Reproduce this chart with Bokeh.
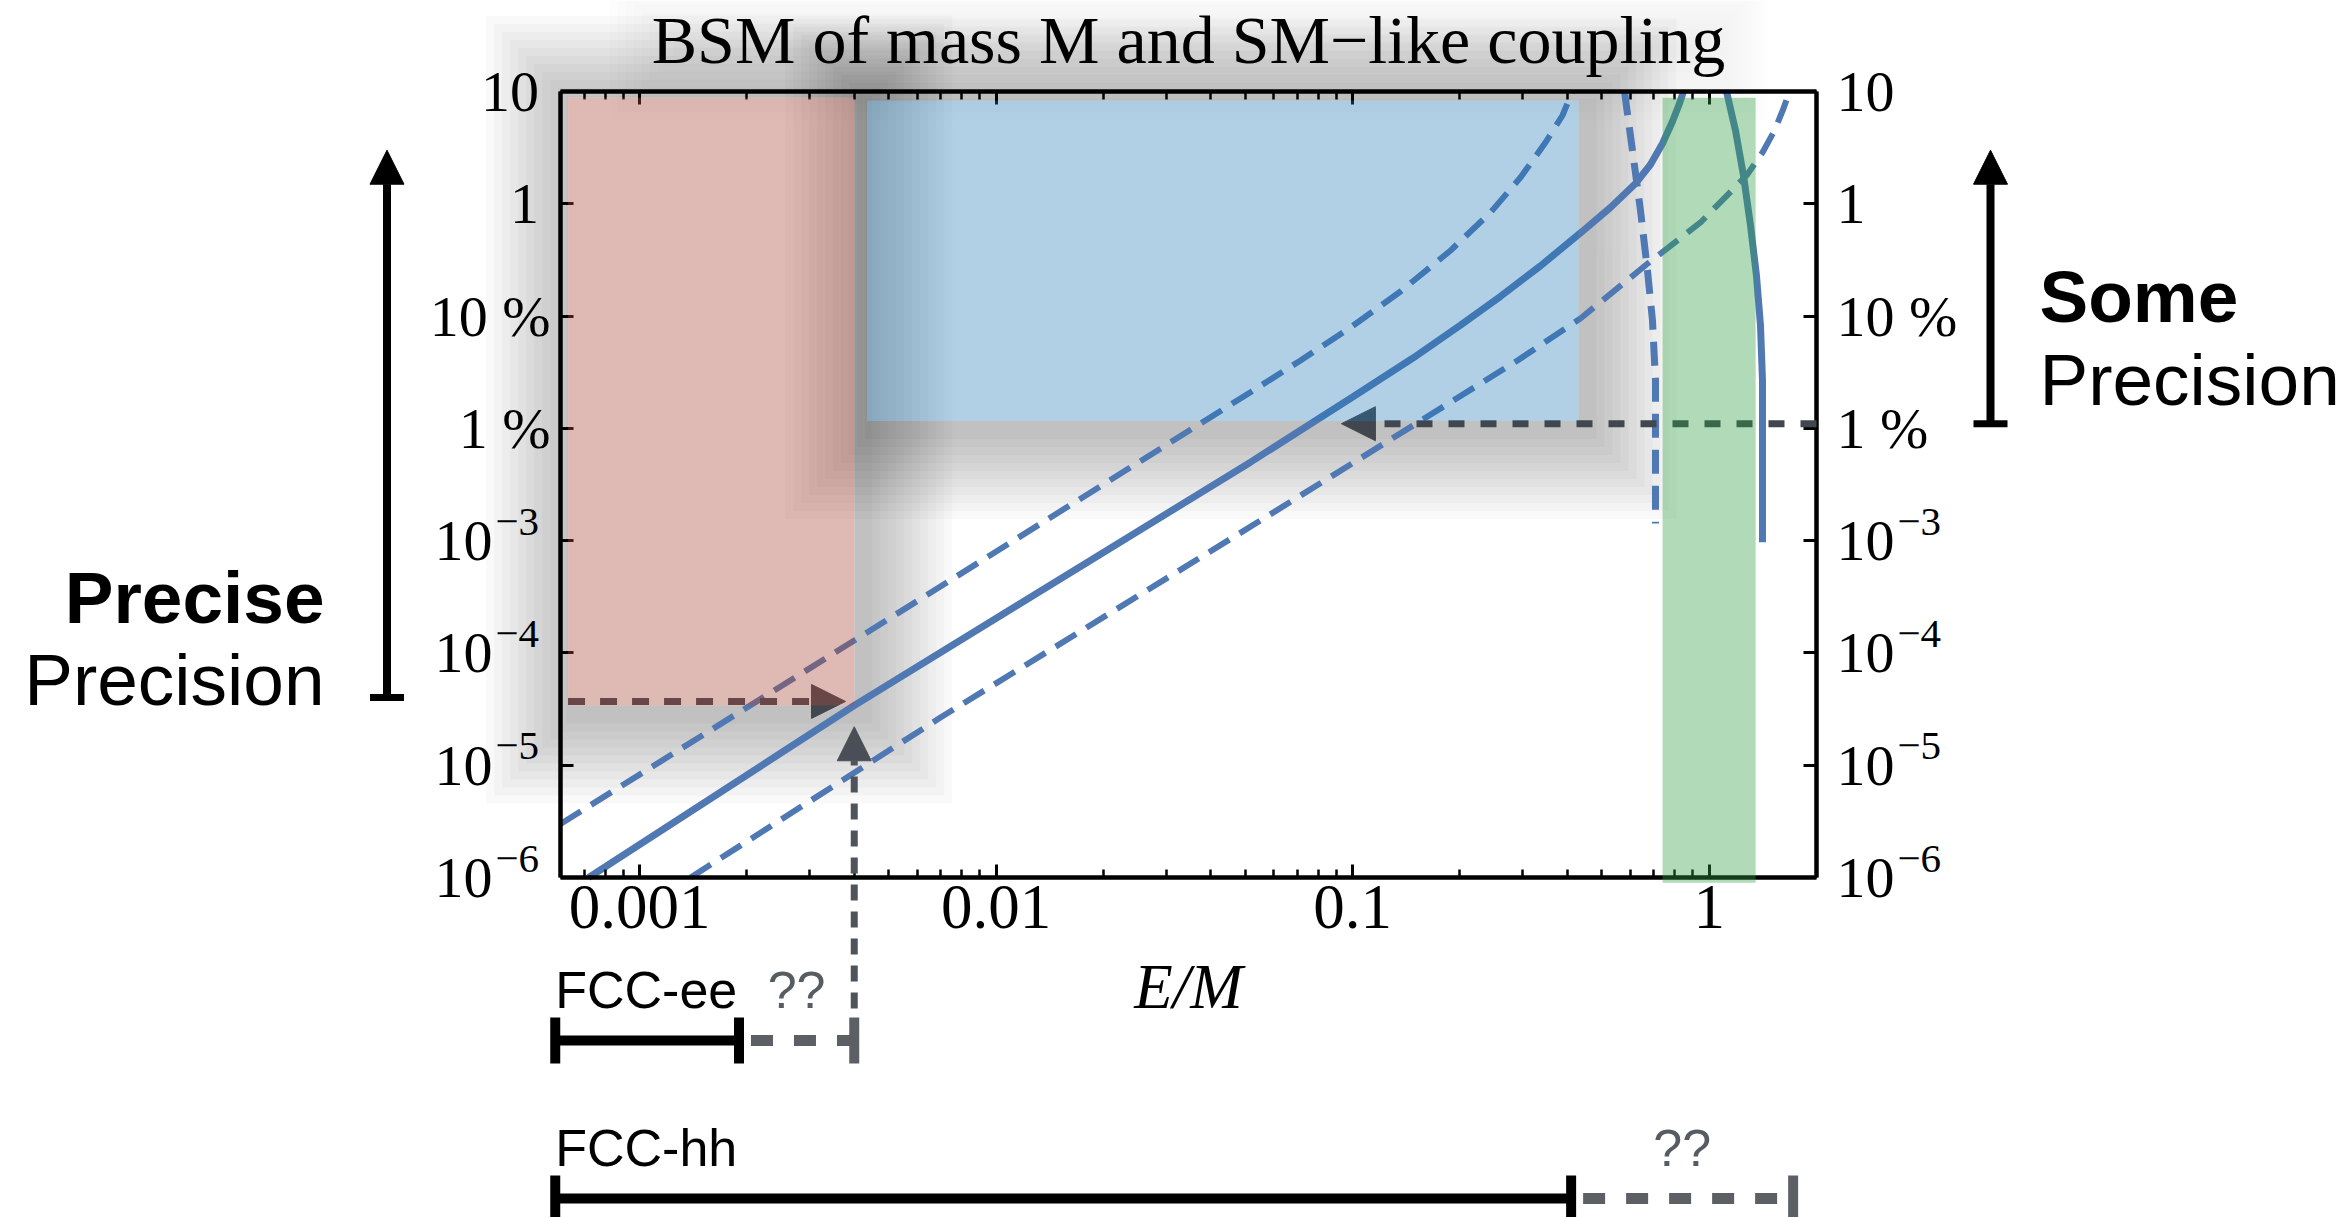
import math
from bokeh.plotting import figure
from bokeh.models import Range1d, LogAxis, FixedTicker, Arrow, NormalHead, TeeHead
from bokeh.core.properties import value
from bokeh.embed import file_html
from bokeh.resources import INLINE

# ---------------- data ----------------
X_LIM = [6e-4, 2.0]
Y_LIM = [1e-6, 10.0]
X_TICKS = [0.001, 0.01, 0.1, 1.0]
X_TICK_LABELS = ["0.001", "0.01", "0.1", "1"]
Y_TICKS = [1e-6, 1e-5, 1e-4, 1e-3, 1e-2, 1e-1, 1.0, 10.0]
Y_TICK_LABELS = ["10", "10", "10", "10", "1 %", "10 %", "1", "10"]
Y_TICK_EXPONENTS = ["−6", "−5", "−4", "−3", "", "", "", ""]

SOLID_X = [7.2e-4, 4.0e-3, 0.0517, 0.1, 0.148, 0.2007, 0.260, 0.3364, 0.4385, 0.5286, 0.6214,
           0.6846, 0.7397, 0.7889, 0.8255, 0.847]
SOLID_Y = [1.0e-6, 3.4e-5, 5.0e-3, 0.0190, 0.0425, 0.083, 0.150, 0.280, 0.560, 0.9268, 1.516,
           2.238, 3.443, 5.404, 7.818, 10.0]

UPPER_X = [6.0e-4, 4.0e-3, 0.0517, 0.0714, 0.0986, 0.1362, 0.1882, 0.2436, 0.2956, 0.3474,
           0.3877, 0.4135]
UPPER_Y = [3.0e-6, 1.29e-4, 0.021, 0.0402, 0.0791, 0.1656, 0.3837, 0.8364, 1.714, 3.515,
           6.113, 10.0]

LOWER_X = [1.39e-3, 6.98e-3, 0.0534, 0.290, 0.4355, 0.667, 0.9456, 1.273, 1.411, 1.525, 1.616, 1.68]
LOWER_Y = [1.0e-6, 2.66e-5, 1.42e-3, 0.0402, 0.0952, 0.2879, 0.6815, 1.786, 2.862, 4.494, 7.056, 10.0]

POLE_DASH_X = [0.5787, 0.6093, 0.6417, 0.6713, 0.6934, 0.707, 0.707]
POLE_DASH_Y = [10.0, 2.983, 0.8713, 0.2546, 0.0913, 0.0267, 1.42e-3]

POLE_SOLID_X = [1.1186, 1.1853, 1.248, 1.306, 1.357, 1.393, 1.411, 1.411]
POLE_SOLID_Y = [10.0, 4.494, 1.786, 0.6406, 0.2298, 0.0824, 0.0267, 9.7e-4]

# shaded regions: [x0, x1, y0, y1]
RED_BOX = [6.3e-4, 4.0e-3, 3.4e-5, 8.8]
BLUE_BOX = [4.35e-3, 0.43, 1.16e-2, 8.3]
GREEN_BOX = [0.74, 1.35, 9.0e-7, 8.8]

# precision indicators
EE_LEVEL = 3.7e-5       # precision reached at E/M = 0.004
SOME_LEVEL = 1.1e-2     # ~1 %
E_EE_REACH = 4.0e-3
E_HH_TIP = 0.093
EE_TIP = 2.2e-5
ARROW_TOP = 3.0

# collider reach in E/M: [start, known end, speculative end]
FCC_EE = [5.8e-4, 1.9e-3, 4.0e-3]
FCC_HH = [5.8e-4, 0.41, 1.72]

TITLE = "BSM of mass M and SM−like coupling"

# ---------------- layout helpers ----------------
W, H = 2349, 1217
PX_L, PX_R, PY_T, PY_B = 560.0, 1816.0, 91.0, 877.0
lx0, lx1 = math.log10(X_LIM[0]), math.log10(X_LIM[1])
ly0, ly1 = math.log10(Y_LIM[0]), math.log10(Y_LIM[1])
DX = (PX_R - PX_L) / (lx1 - lx0)
DY = (PY_B - PY_T) / (ly1 - ly0)


def fx(px):
    return 10 ** (lx0 + (px - PX_L) / DX)


def fy(py):
    return 10 ** (ly1 - (py - PY_T) / DY)


def py_of(yv):
    return PY_T + (ly1 - math.log10(yv)) * DY


p = figure(width=W, height=H, x_axis_type="log", y_axis_type="log",
           x_range=Range1d(fx(0), fx(W)), y_range=Range1d(fy(H), fy(0)),
           x_axis_location=None, y_axis_location=None,
           output_backend="svg", toolbar_location=None, min_border=0)
p.outline_line_color = None
p.grid.visible = False
p.background_fill_color = "white"

SERIF = value("Liberation Serif")
SANS = value("Liberation Sans")


def label(x, base_py, txt, font, size, align, color="black", style="normal"):
    """text placed by its baseline (screen row base_py)"""
    p.text(x=[x], y=[fy(base_py - 0.34 * size)], text=[txt], text_font=font,
           text_font_size=f"{size}px", text_font_style=style, text_align=align,
           text_baseline="middle", text_color=color)


# ---------------- soft drop shadows (rings around a box, offset down-right) ----------------
def shadow(box, ox=8, oy=8, n=11, alpha=0.022, o0=10, ostep=8, hole=True):
    xs, ys, al = [], [], []
    for k in range(n):
        o = o0 + ostep * k
        l, r = box[0] * 10 ** ((ox - o) / DX), box[1] * 10 ** ((ox + o) / DX)
        b, t = box[2] * 10 ** (-(oy + o) / DY), box[3] * 10 ** ((o - oy) / DY)
        rx = [[l, r, r, l]]
        ry = [[b, b, t, t]]
        if hole:
            rx.append([box[0], box[1], box[1], box[0]])
            ry.append([box[2], box[2], box[3], box[3]])
        xs.append([rx])
        ys.append([ry])
        al.append(alpha)
    p.multi_polygons(xs=xs, ys=ys, fill_color="black", fill_alpha=al, line_color=None)


shadow(RED_BOX)
shadow(BLUE_BOX)
shadow([fx(660), fx(1710), fy(62), fy(30)], ox=3, oy=4, n=9, alpha=0.008,
       o0=-10, ostep=8, hole=False)

# ---------------- curves ----------------
BLUE = "#5079b4"
p.line(SOLID_X, SOLID_Y, line_color=BLUE, line_width=7)
p.line(UPPER_X, UPPER_Y, line_color=BLUE, line_width=6, line_dash="24 12")
p.line(LOWER_X, LOWER_Y, line_color=BLUE, line_width=6, line_dash="24 12")
p.line(POLE_DASH_X, POLE_DASH_Y, line_color=BLUE, line_width=7, line_dash="24 12")
p.line(POLE_SOLID_X, POLE_SOLID_Y, line_color=BLUE, line_width=7)

# ---------------- arrows inside the plot ----------------
DARK = "#42474f"
p.add_layout(Arrow(end=NormalHead(size=34, fill_color=DARK, line_color=DARK, line_width=1),
                   x_start=RED_BOX[0], y_start=EE_LEVEL, x_end=fx(845), y_end=EE_LEVEL,
                   line_color=DARK, line_width=7, line_dash="17 15"))
p.add_layout(Arrow(end=NormalHead(size=34, fill_color=DARK, line_color=DARK, line_width=1),
                   x_start=X_LIM[1], y_start=SOME_LEVEL, x_end=E_HH_TIP, y_end=SOME_LEVEL,
                   line_color=DARK, line_width=7, line_dash="16 16"))
p.add_layout(Arrow(end=NormalHead(size=34, fill_color="#4a4f57", line_color="#4a4f57", line_width=1),
                   x_start=E_EE_REACH, y_start=fy(1062), x_end=E_EE_REACH, y_end=EE_TIP,
                   line_color="#4f545c", line_width=7, line_dash="16 11"))

# ---------------- axes ----------------
minor = [k * 10 ** d for d in range(-4, 1) for k in range(2, 10)
         if X_LIM[0] <= k * 10 ** d <= X_LIM[1]]
YFS = 58
EFS = 41


def style(ax, labels, size, standoff):
    ax.axis_line_width = 4.5
    ax.axis_line_color = "black"
    ax.major_tick_line_width = 3
    ax.minor_tick_line_width = 2.5
    ax.major_tick_in = 13
    ax.major_tick_out = 0
    ax.minor_tick_in = 8
    ax.minor_tick_out = 0
    ax.major_label_text_font = "Liberation Serif"
    ax.major_label_text_font_size = size
    ax.major_label_text_color = "black"
    ax.major_label_standoff = standoff
    if labels is not None:
        ax.major_label_overrides = labels


xlab = dict(zip(X_TICKS, X_TICK_LABELS))
ylab_right = dict(zip(Y_TICKS, Y_TICK_LABELS))
ylab_left = {}
for t, s, e in zip(Y_TICKS, Y_TICK_LABELS, Y_TICK_EXPONENTS):
    if e:
        ylab_left[t] = s + "\u2003"          # room for the exponent
    elif "%" in s:
        ylab_left[t] = s
    else:
        ylab_left[t] = s + "\u2009"

bottom = LogAxis(fixed_location=Y_LIM[0], bounds=(X_LIM[0], X_LIM[1]),
                 ticker=FixedTicker(ticks=X_TICKS, minor_ticks=minor))
style(bottom, xlab, "63px", 8)
p.add_layout(bottom, "below")

top = LogAxis(fixed_location=Y_LIM[1], bounds=(X_LIM[0], X_LIM[1]),
              ticker=FixedTicker(ticks=X_TICKS, minor_ticks=minor))
style(top, None, "0px", 0)
top.major_label_text_alpha = 0
p.add_layout(top, "above")

left = LogAxis(fixed_location=X_LIM[0], bounds=(Y_LIM[0], Y_LIM[1]),
               ticker=FixedTicker(ticks=Y_TICKS, minor_ticks=[]))
style(left, ylab_left, f"{YFS}px", 10)
p.add_layout(left, "left")

right = LogAxis(fixed_location=X_LIM[1], bounds=(Y_LIM[0], Y_LIM[1]),
                ticker=FixedTicker(ticks=Y_TICKS, minor_ticks=[]))
style(right, ylab_right, f"{YFS}px", 20)
p.add_layout(right, "right")

# exponents of the power-of-ten tick labels
for t, e in zip(Y_TICKS, Y_TICK_EXPONENTS):
    if e:
        base = py_of(t) - 5
        label(fx(PX_L - 10 - YFS + 3), base, e, SERIF, EFS, "left")
        label(fx(PX_R + 20 + YFS + 3), base, e, SERIF, EFS, "left")

# ---------------- shaded regions (drawn over lines and axes) ----------------
p.quad(left=[RED_BOX[0]], right=[RED_BOX[1]], bottom=[RED_BOX[2]], top=[RED_BOX[3]],
       fill_color="#aa4637", fill_alpha=0.38, line_color=None, level="overlay")
p.quad(left=[BLUE_BOX[0]], right=[BLUE_BOX[1]], bottom=[BLUE_BOX[2]], top=[BLUE_BOX[3]],
       fill_color="#1f77b4", fill_alpha=0.35, line_color=None, level="overlay")
p.quad(left=[GREEN_BOX[0]], right=[GREEN_BOX[1]], bottom=[GREEN_BOX[2]], top=[GREEN_BOX[3]],
       fill_color="#329e44", fill_alpha=0.38, line_color=None, level="overlay")

# ---------------- texts ----------------
xc = fx((PX_L + PX_R) / 2)
label(xc, 63, TITLE, SERIF, 68, "center")
label(xc, 1008, "E/M", SERIF, 63, "center", style="italic")

# precision arrows outside the plot
p.add_layout(Arrow(start=TeeHead(size=34, line_width=7, line_color="black"),
                   end=NormalHead(size=34, fill_color="black", line_color="black", line_width=1),
                   x_start=fx(386.5), y_start=4.0e-5, x_end=fx(386.5), y_end=ARROW_TOP,
                   line_color="black", line_width=8))
p.add_layout(Arrow(start=TeeHead(size=34, line_width=7, line_color="black"),
                   end=NormalHead(size=34, fill_color="black", line_color="black", line_width=1),
                   x_start=fx(1990), y_start=SOME_LEVEL, x_end=fx(1990), y_end=ARROW_TOP,
                   line_color="black", line_width=8))

label(fx(324), 622, "Precise", SANS, 73, "right", style="bold")
label(fx(324), 704, "Precision", SANS, 73, "right")
label(fx(2039), 321, "Some", SANS, 73, "left", style="bold")
label(fx(2039), 404, "Precision", SANS, 73, "left")

# collider reach bars
GRAY = "#5c5f64"
for row, reach, name in [(1040, FCC_EE, "FCC-ee"), (1198, FCC_HH, "FCC-hh")]:
    yy = fy(row)
    p.add_layout(Arrow(start=TeeHead(size=46, line_width=10, line_color="black"),
                       end=TeeHead(size=46, line_width=10, line_color="black"),
                       x_start=reach[0], y_start=yy, x_end=reach[1], y_end=yy,
                       line_color="black", line_width=10))
    p.add_layout(Arrow(end=TeeHead(size=46, line_width=10, line_color=GRAY),
                       x_start=reach[1], y_start=yy, x_end=reach[2], y_end=yy,
                       line_color=GRAY, line_width=11, line_dash="22 21", line_dash_offset=-12))
    label(reach[0], row - 33, name, SANS, 52, "left")
    label(math.sqrt(reach[1] * reach[2]), row - 33, "??", SANS, 52, "center", color="#575c63")

open("out.html", "w").write(file_html(p, INLINE))
